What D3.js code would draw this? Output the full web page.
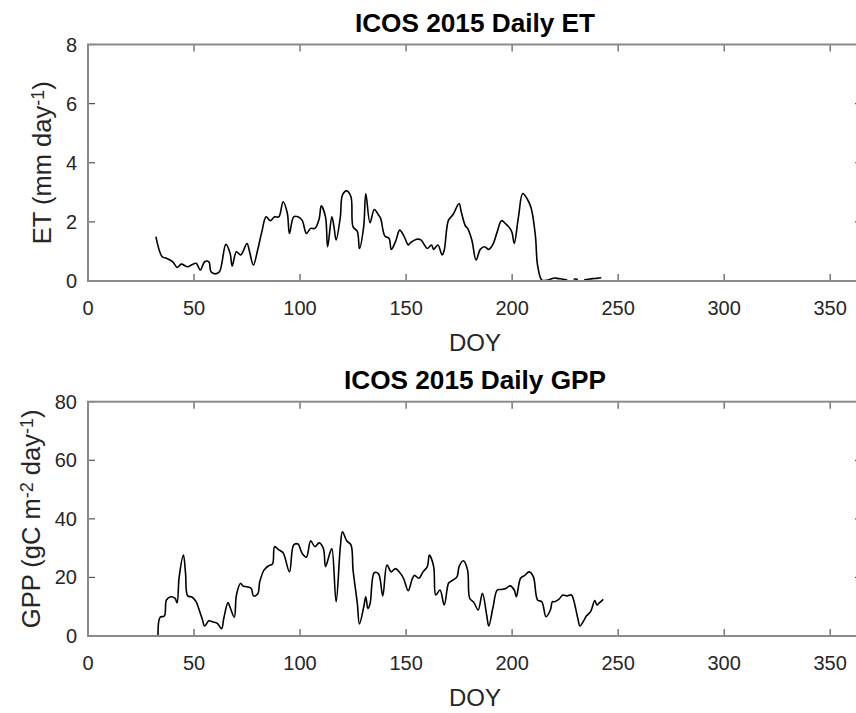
<!DOCTYPE html>
<html>
<head>
<meta charset="utf-8">
<script src="https://cdn.jsdelivr.net/npm/d3@7"></script>
<style>
  html, body { margin: 0; padding: 0; background: #fff; overflow: hidden; }
  svg { display: block; font-family: "Liberation Sans", Arial, Helvetica, sans-serif; }
</style>
</head>
<body>
<svg id="fig" width="856" height="713"></svg>
<script>
// Daily ET (mm/day) by day of year; null marks missing days
const etDoy = [32,35,37,40,42,44,47,49,51,53,55,57,58,60,62,65,67,68,70,72,75,76,78,80,82,84,86,88,90,92,94,95,97,99,101,103,105,107,109,110,112,113,115,116,117,119,120,122,124,125,127,128,130,131,133,135,137,138,140,142,143,145,147,149,151,152,155,157,159,160,162,163,165,167,168,170,172,175,176,178,179,181,183,185,187,189,191,193,195,197,199,200,201,203,205,207,209,211,212,214,216,218,220,222,224,226,227,229,230,231,232,234,236,238,240,242];
const etVal = [1.50,0.82,0.77,0.65,0.46,0.57,0.48,0.55,0.60,0.37,0.65,0.65,0.31,0.24,0.31,1.24,0.94,0.51,0.99,0.88,1.27,1.05,0.54,1.05,1.67,2.17,2.04,2.17,2.17,2.68,2.29,1.61,2.17,2.17,2.05,1.61,1.78,1.78,2.10,2.54,2.17,1.16,2.17,1.83,1.39,2.17,2.91,3.05,2.85,1.83,1.68,1.10,1.83,2.96,1.97,2.42,2.23,2.12,1.52,1.44,1.07,1.33,1.72,1.52,1.22,1.29,1.41,1.39,1.18,1.10,1.22,1.07,1.22,0.88,1.05,2.06,2.23,2.62,2.34,1.86,1.78,1.39,0.71,1.07,1.16,1.07,1.25,1.67,2.04,1.93,1.78,1.63,1.27,2.17,2.96,2.79,2.46,1.52,0.54,0.03,0.02,0.06,0.10,0.08,0.06,0.03,null,0.06,0.07,0.05,null,0.04,0.06,0.08,0.09,0.11];

// Daily GPP (gC m-2 day-1) by day of year
const gppDoy = [33,34,36,37,39,41,42,43,45,46,47,49,51,52,54,55,57,59,61,63,64,66,67,69,70,72,73,75,77,78,80,81,83,85,87,88,90,92,95,97,99,101,103,105,107,109,111,112,114,115,117,119,120,122,124,125,127,128,130,131,132,133,135,137,139,141,143,145,148,149,151,153,154,156,158,160,161,163,164,166,168,170,171,174,175,177,179,180,182,184,186,188,189,191,193,195,197,199,201,202,204,206,208,210,212,214,216,218,219,220,222,224,226,228,229,231,232,234,235,237,239,240,241,243];
const gppVal = [0.0,6.4,6.8,12.3,13.4,12.9,11.4,20.2,27.6,21.4,13.7,13.3,11.7,9.8,5.5,3.4,5.2,4.8,4.3,2.5,5.9,11.4,9.8,6.4,14.0,18.0,17.1,16.8,16.2,13.7,14.3,18.5,22.5,23.9,24.6,30.5,29.4,28.4,21.9,31.1,31.4,28.2,26.9,32.5,30.5,31.8,29.9,23.7,28.2,29.9,11.7,30.5,35.6,32.5,31.1,22.5,11.2,4.1,9.8,13.4,9.4,11.0,21.6,21.2,13.7,24.2,21.9,23.0,20.7,19.3,15.5,19.7,20.7,19.7,21.9,23.7,27.6,23.7,14.0,15.7,10.6,18.0,18.6,20.2,23.7,25.7,22.5,12.9,11.4,8.9,14.6,7.2,3.4,9.8,15.7,15.9,16.2,17.1,15.7,13.4,19.7,20.7,21.9,20.3,12.3,11.7,6.6,8.8,11.7,11.7,12.5,14.0,13.7,14.0,12.3,6.0,3.4,5.5,6.8,8.3,12.1,10.6,11.2,12.5];

const xTicks = [0,50,100,150,200,250,300,350];
const etTicks = [0,2,4,6,8];
const gppTicks = [0,20,40,60,80];

const svg = d3.select("#fig");
const left = 88, right = 862;
const x = d3.scaleLinear().domain([0, 365]).range([left, right]);

const axisGray = "#8a8a8a";
const textGray = "#262626";
const tickLen = 7;

function panel(cfg) {
  const { top, bottom, yMax, yTicks, title, doy, vals, labelX, labelParts } = cfg;
  const y = d3.scaleLinear().domain([0, yMax]).range([bottom, top]);
  const g = svg.append("g");

  // inward ticks on all four sides
  const tg = g.append("g").attr("stroke", "#555").attr("stroke-width", 1.2);
  xTicks.forEach(t => {
    tg.append("line").attr("x1", x(t)).attr("x2", x(t)).attr("y1", bottom).attr("y2", bottom - tickLen);
    tg.append("line").attr("x1", x(t)).attr("x2", x(t)).attr("y1", top).attr("y2", top + tickLen);
  });
  yTicks.forEach(t => {
    tg.append("line").attr("x1", left).attr("x2", left + tickLen).attr("y1", y(t)).attr("y2", y(t));
    tg.append("line").attr("x1", right).attr("x2", right - tickLen).attr("y1", y(t)).attr("y2", y(t));
  });

  // data line
  const pts = doy.map((d, i) => ({ d, v: vals[i] }));
  g.append("path")
    .datum(pts)
    .attr("fill", "none")
    .attr("stroke", "#000")
    .attr("stroke-width", 1.6)
    .attr("stroke-linejoin", "round")
    .attr("d", d3.line()
      .defined(p => p.v !== null)
      .curve(d3.curveCatmullRom.alpha(0.5))
      .x(p => x(p.d)).y(p => y(p.v)));

  // box
  g.append("rect")
    .attr("x", left).attr("y", top)
    .attr("width", right - left).attr("height", bottom - top)
    .attr("fill", "none").attr("stroke", axisGray).attr("stroke-width", 2);

  // tick labels
  g.append("g").selectAll("text").data(xTicks).join("text")
    .attr("x", d => x(d)).attr("y", bottom + 34)
    .attr("text-anchor", "middle").attr("font-size", 20).attr("fill", textGray)
    .text(d => d);
  g.append("g").selectAll("text").data(yTicks).join("text")
    .attr("x", left - 11).attr("y", d => y(d) + 7)
    .attr("text-anchor", "end").attr("font-size", 20).attr("fill", textGray)
    .text(d => d);

  // x label
  g.append("text")
    .attr("x", (left + right) / 2).attr("y", bottom + 70)
    .attr("text-anchor", "middle").attr("font-size", 24).attr("fill", textGray)
    .text("DOY");

  // y label with superscripts
  const yl = g.append("text")
    .attr("transform", `translate(${labelX},${(top + bottom) / 2}) rotate(-90)`)
    .attr("text-anchor", "middle").attr("font-size", 25.5).attr("fill", textGray);
  labelParts.forEach(p => {
    const ts = yl.append("tspan").text(p.t);
    if (p.sup) ts.attr("font-size", 18).attr("baseline-shift", "40%");
  });

  // title
  g.append("text")
    .attr("x", (left + right) / 2).attr("y", top - 13)
    .attr("text-anchor", "middle").attr("font-size", 26.2).attr("font-weight", "bold").attr("fill", "#000")
    .text(title);
}

panel({
  top: 44.5, bottom: 281, yMax: 8, yTicks: etTicks,
  title: "ICOS 2015 Daily ET", doy: etDoy, vals: etVal, labelX: 51,
  labelParts: [{ t: "ET (mm day" }, { t: "-1", sup: true }, { t: ")" }]
});

panel({
  top: 401.7, bottom: 636, yMax: 80, yTicks: gppTicks,
  title: "ICOS 2015 Daily GPP", doy: gppDoy, vals: gppVal, labelX: 40,
  labelParts: [{ t: "GPP (gC m" }, { t: "-2", sup: true }, { t: " day" }, { t: "-1", sup: true }, { t: ")" }]
});
</script>
</body>
</html>
